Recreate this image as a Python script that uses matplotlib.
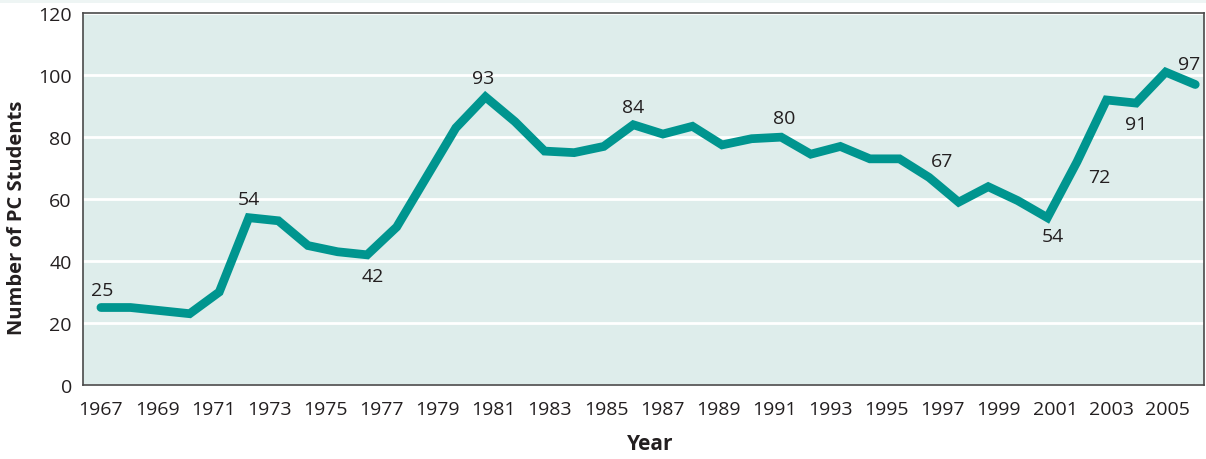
import numpy as np
import matplotlib
matplotlib.use("Agg")
import matplotlib.pyplot as plt
from matplotlib.patches import Rectangle

plt.rcParams["font.family"] = ["Open Sans", "DejaVu Sans"]

# students per year, 1967 - 2006
students = [25, 25, 24, 23, 30, 54, 53, 45, 43, 42,
            51, 67, 83, 93, 85, 75.5, 75, 77, 84, 81,
            83.5, 77.5, 79.5, 80, 74.5, 77, 73, 73, 67, 59,
            64, 59.5, 54, 72, 92, 91, 101, 97]
year_ticks = list(range(1967, 2006, 2))

# (point index, text, x offset pt, y offset pt)
callouts = [(0, "25", 0.7, 12.5), (5, "54", 0, 13.5), (9, "42", 4.3, -15.5),
            (13, "93", -1.4, 13.5), (18, "84", 0, 13), (23, "80", 1.9, 13.5),
            (28, "67", 9.6, 11.5), (32, "54", 4.1, -13.5), (33, "72", 16.3, -10.6),
            (35, "91", 0, -15.1), (37, "97", -4.1, 15)]

text_col = "#231f20"
line_col = "#00958f"

x = np.linspace(1967, 2006, len(students))

fig = plt.figure(figsize=(12.06, 4.6), dpi=100)
fig.patches.append(Rectangle((0, 0.991), 1, 0.009, transform=fig.transFigure,
                             facecolor="#eef5f4", edgecolor="none"))
ax = fig.add_axes([0.0688, 0.161, 0.9295, 0.808])
ax.set_facecolor("#deedeb")

ax.plot(x, students, color=line_col, lw=6.3, solid_joinstyle="miter",
        solid_capstyle="round", zorder=3)

for i, txt, dx, dy in callouts:
    ax.annotate(txt, (x[i], students[i]), xytext=(dx, dy),
                textcoords="offset points", ha="center", va="center",
                fontsize=14, color=text_col, zorder=4)

ax.set_xlim(1966.36, 2006.31)
ax.set_ylim(0, 120)
ax.set_xticks(year_ticks)
ax.set_yticks(range(0, 121, 20))
ax.yaxis.grid(True, color="white", lw=2)
ax.set_axisbelow(True)
ax.tick_params(length=0, labelsize=14, colors=text_col)
ax.tick_params(axis="x", pad=11)
ax.tick_params(axis="y", pad=8)
for s in ax.spines.values():
    s.set_color("#4a4a4a")
    s.set_linewidth(1.2)

ax.set_xlabel("Year", fontsize=15, fontweight="bold", color=text_col)
ax.set_ylabel("Number of PC Students", fontsize=14.5, fontweight="bold",
              color=text_col)
ax.xaxis.set_label_coords(0.506, -0.128)
ax.yaxis.set_label_coords(-0.05, 0.453)

fig.savefig("out.png", dpi=100)
